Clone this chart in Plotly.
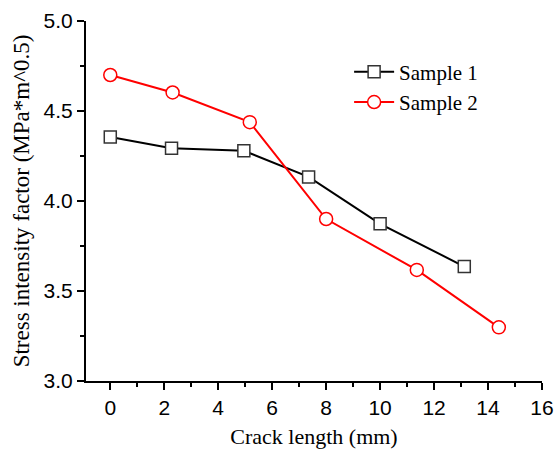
import plotly.graph_objects as go

# Data
x_s1 = [0, 2.27, 4.95, 7.35, 10.0, 13.12]
y_s1 = [4.355, 4.293, 4.279, 4.134, 3.873, 3.636]
x_s2 = [0, 2.31, 5.17, 8.0, 11.36, 14.40]
y_s2 = [4.70, 4.603, 4.438, 3.90, 3.617, 3.298]
x_ticks = [0, 2, 4, 6, 8, 10, 12, 14, 16]
y_ticks = [3.0, 3.5, 4.0, 4.5, 5.0]

serif = "Liberation Serif, Times New Roman, serif"
sans = "Liberation Sans, Arial, sans-serif"

fig = go.Figure()
fig.add_trace(go.Scatter(
    x=x_s1, y=y_s1, mode="lines+markers", name="Sample 1",
    line=dict(color="black", width=2),
    marker=dict(symbol="square", size=12, color="white",
                line=dict(color="#333333", width=1.5)),
))
fig.add_trace(go.Scatter(
    x=x_s2, y=y_s2, mode="lines+markers", name="Sample 2",
    line=dict(color="#FF0000", width=2),
    marker=dict(symbol="circle", size=13, color="white",
                line=dict(color="#FF0000", width=1.5)),
))

axis_common = dict(
    showgrid=False, zeroline=False, showline=True, linecolor="black",
    linewidth=2, ticks="outside", ticklen=7, tickwidth=2, tickcolor="black",
    tickfont=dict(family=sans, size=21, color="black"),
    mirror=False, automargin=False,
)

fig.update_xaxes(
    range=[-0.9, 16], tickvals=x_ticks, ticktext=[str(v) for v in x_ticks],
    minor=dict(ticks="outside", ticklen=4, tickwidth=2, tickcolor="black",
               tickvals=[1, 3, 5, 7, 9, 11, 13, 15]),
    title=dict(text="Crack length (mm)", font=dict(family=serif, size=22, color="black"),
               standoff=10),
    **axis_common,
)
fig.update_yaxes(
    range=[3.0, 5.0], tickvals=y_ticks, ticktext=[f"{v:.1f}" for v in y_ticks],
    minor=dict(ticks="outside", ticklen=4, tickwidth=2, tickcolor="black",
               tickvals=[3.25, 3.75, 4.25, 4.75]),
    title=dict(text="Stress intensity factor (MPa*m^0.5)",
               font=dict(family=serif, size=23, color="black"), standoff=8),
    **axis_common,
)

fig.update_layout(
    width=554, height=456,
    margin=dict(l=86, r=12, t=21, b=75, pad=0),
    paper_bgcolor="white", plot_bgcolor="white",
    showlegend=True,
    legend=dict(x=0.577, y=0.915, xanchor="left", yanchor="top",
                font=dict(family=serif, size=21, color="black"),
                bgcolor="rgba(0,0,0,0)", tracegroupgap=0, itemwidth=40),
)

fig.write_html(
    "out.html",
    config={"displayModeBar": False},
    post_script="document.body.style.margin='0';document.body.style.overflow='hidden';",
)
